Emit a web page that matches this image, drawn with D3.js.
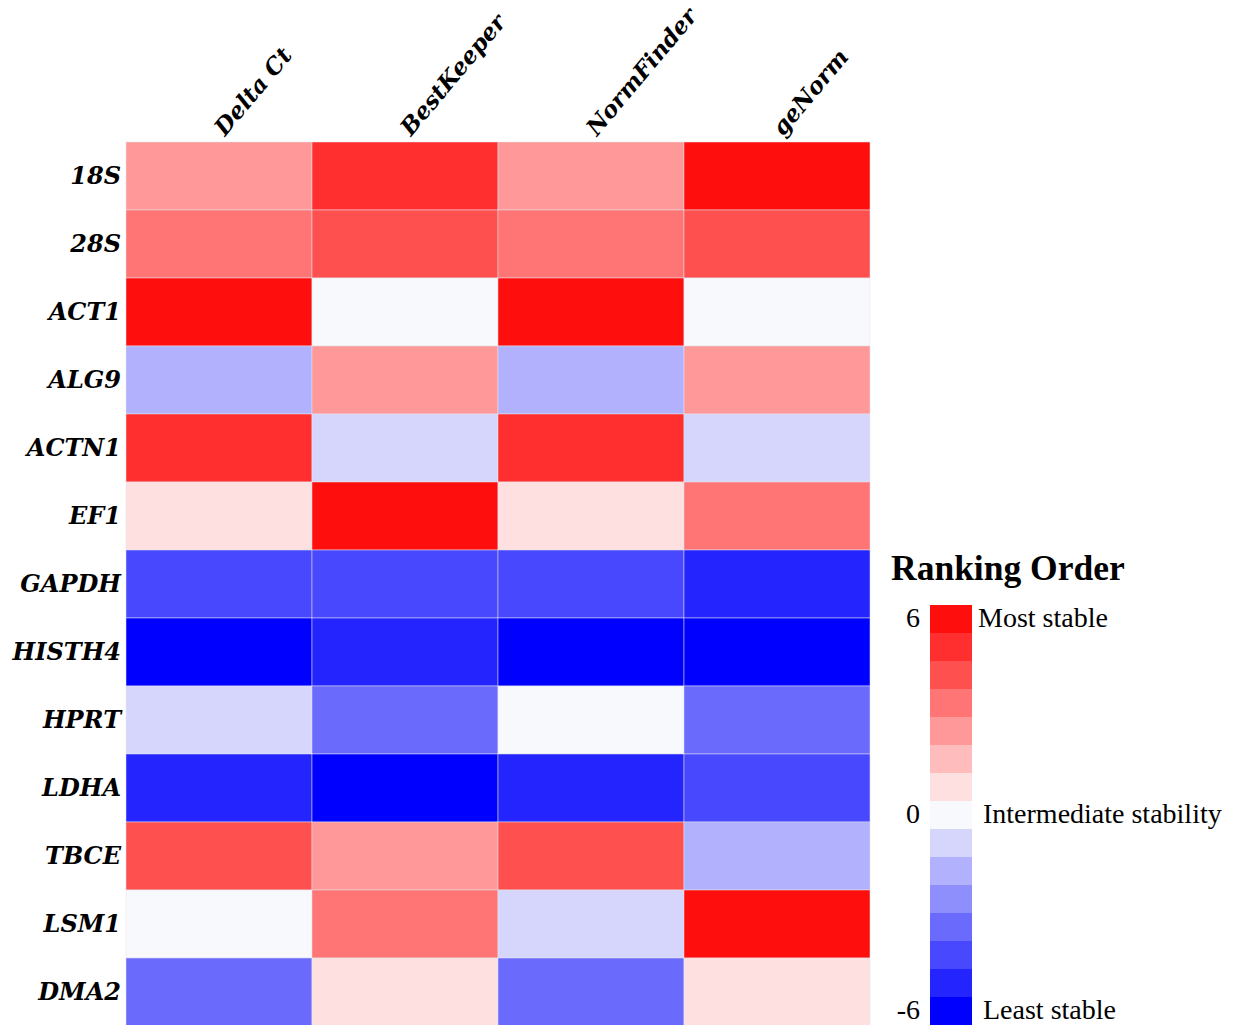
<!DOCTYPE html>
<html>
<head>
<meta charset="utf-8">
<script src="https://cdn.jsdelivr.net/npm/d3@7"></script>
<style>
  body { margin: 0; background: #fff; }
</style>
</head>
<body>
<div id="chart"></div>
<script>
"use strict";

const genes = ["18S", "28S", "ACT1", "ALG9", "ACTN1", "EF1", "GAPDH", "HISTH4", "HPRT", "LDHA", "TBCE", "LSM1", "DMA2"];
const methods = ["Delta Ct", "BestKeeper", "NormFinder", "geNorm"];

// ranking order score per method (6 = most stable, -6 = least stable), gene order as above
const deltaCt    = [2, 3, 6, -2, 5, 1, -4, -6, -1, -5, 4, 0, -3];
const bestKeeper = [5, 4, 0, 2, -1, 6, -4, -5, -3, -6, 2, 3, 1];
const normFinder = [2, 3, 6, -2, 5, 1, -4, -6, 0, -5, 4, -1, -3];
const geNorm     = [6, 4, 0, 2, -1, 3, -5, -6, -3, -4, -2, 6, 1];

// colours used for the scores -6 .. 6
const cellColours = ["#0000ff", "#2424ff", "#4848ff", "#6a6afd", "#b1b1fd", "#d6d6fd", "#f8f9fd",
                     "#ffe0e0", "#ff9898", "#ff7474", "#ff5050", "#ff2f2f", "#ff0e0e"];
// legend swatches, top to bottom
const legendColours = ["#ff0e0e", "#ff2f2f", "#ff5050", "#ff7474", "#ff9898", "#ffbcbc", "#ffe0e0", "#f8f9fd",
                       "#d6d6fd", "#b1b1fd", "#8e8efc", "#6a6afd", "#4848ff", "#2424ff", "#0000ff"];
const legendTicks = [6, 0, -6];
const legendLabels = ["Most stable", "Intermediate stability", "Least stable"];

const width = 1238;
const height = 1025;

const svg = d3.select("#chart")
  .append("svg")
  .attr("width", width)
  .attr("height", height);

const columns = [deltaCt, bestKeeper, normFinder, geNorm];
const cells = [];
methods.forEach((m, j) => {
  genes.forEach((g, i) => {
    cells.push({ gene: g, method: m, value: columns[j][i] });
  });
});

const x = d3.scaleBand().domain(methods).range([126, 870]);
const y = d3.scaleBand().domain(genes).range([142, 1026]);
const color = d3.scaleQuantize().domain([-6, 6]).range(cellColours);

// cases de la heatmap
svg.append("g")
  .selectAll("rect")
  .data(cells)
  .join("rect")
  .attr("x", (d) => x(d.method))
  .attr("y", (d) => y(d.gene))
  .attr("width", x.bandwidth())
  .attr("height", y.bandwidth())
  .attr("fill", (d) => color(d.value))
  .attr("stroke", "#e4e4ec")
  .attr("stroke-width", 0.5);

// noms des genes
svg.append("g")
  .selectAll("text")
  .data(genes)
  .join("text")
  .attr("x", 121)
  .attr("y", (d) => y(d) + y.bandwidth() / 2)
  .attr("dy", "0.35em")
  .attr("text-anchor", "end")
  .style("font-family", "'DejaVu Serif', serif")
  .style("font-weight", "bold")
  .style("font-style", "italic")
  .style("font-size", "24px")
  .text((d) => d);

// noms des methodes, en diagonale
svg.append("g")
  .selectAll("text")
  .data(methods)
  .join("text")
  .attr("transform", (d) => `translate(${x(d) + x.bandwidth() / 2 + 6}, 137) rotate(-50)`)
  .attr("text-anchor", "start")
  .style("font-family", "'DejaVu Serif', serif")
  .style("font-weight", "bold")
  .style("font-style", "italic")
  .style("font-size", "23px")
  .text((d) => d);

// legende
const legend = svg.append("g");

legend.append("text")
  .attr("x", 891)
  .attr("y", 580)
  .style("font-family", "'Liberation Serif', serif")
  .style("font-weight", "bold")
  .style("font-size", "35.5px")
  .text("Ranking Order");

const ly = d3.scaleBand().domain(d3.range(legendColours.length)).range([605, 1025]);
const tickY = d3.scaleLinear().domain([6, -6]).range([ly(0) + ly.bandwidth() / 2, ly(14) + ly.bandwidth() / 2]);

legend.append("g")
  .selectAll("rect")
  .data(legendColours)
  .join("rect")
  .attr("x", 930)
  .attr("y", (d, i) => ly(i))
  .attr("width", 42)
  .attr("height", ly.bandwidth() + 0.5)
  .attr("fill", (d) => d);

legend.append("g")
  .selectAll("text")
  .data(legendTicks)
  .join("text")
  .attr("x", 920)
  .attr("y", (d) => tickY(d))
  .attr("dy", "0.3em")
  .attr("text-anchor", "end")
  .style("font-family", "'Liberation Serif', serif")
  .style("font-size", "28px")
  .text((d) => d);

legend.append("g")
  .selectAll("text")
  .data(legendLabels)
  .join("text")
  .attr("x", (d, i) => (i === 0 ? 978 : 983))
  .attr("y", (d, i) => tickY(legendTicks[i]))
  .attr("dy", "0.3em")
  .style("font-family", "'Liberation Serif', serif")
  .style("font-size", "28px")
  .text((d) => d);
</script>
</body>
</html>
